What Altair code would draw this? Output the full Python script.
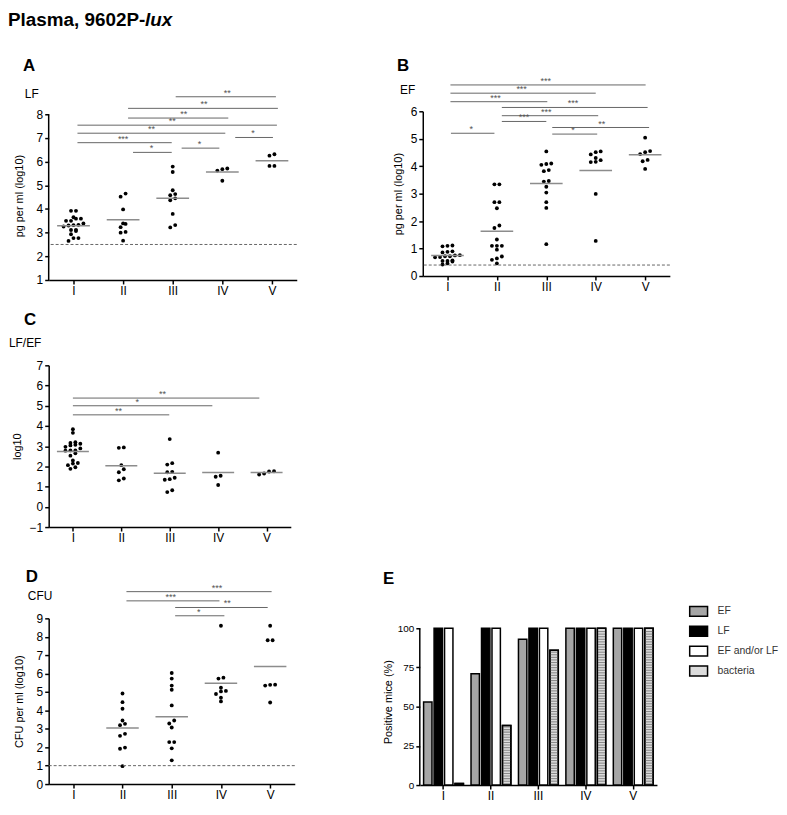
import altair as alt
import pandas as pd

FONT = "Liberation Sans"
GROUPS = ["I", "II", "III", "IV", "V"]

# ---------------- Panel A : LF, pg per ml (log10)
A_VALUES = [
    [3.92, 3.92, 3.59, 3.50, 3.50, 3.59, 3.65, 3.39, 3.33, 3.26, 3.30, 3.32, 3.07, 3.11, 3.12, 2.93, 2.77, 2.65, 2.77],
    [4.52, 4.65, 3.98, 3.39, 3.37, 3.23, 3.03, 3.00, 2.66],
    [5.79, 5.56, 4.79, 4.63, 4.58, 4.45, 4.37, 3.79, 3.22, 3.32],
    [5.68, 5.62, 5.71, 5.19],
    [6.31, 6.25, 5.82, 5.82],
]
A_MEDIANS = [3.29, 3.54, 4.45, 5.56, 6.04]
A_LOD = 2.5
A_SIG_FROM = [3.06, 2.10, 2.10, 1.08, 1.08, 1.08, 2.20, 3.18, 4.26]
A_SIG_TO = [5.08, 5.12, 4.12, 5.10, 4.06, 2.98, 2.98, 3.94, 5.02]
A_SIG_Y = [8.74, 8.25, 7.84, 7.54, 7.20, 6.80, 6.39, 6.57, 7.02]
A_SIG_TEXT_X = [4.10, 3.63, 3.22, 2.99, 2.57, 2.00, 2.57, 3.54, 4.62]
A_SIG_LABEL = ["**", "**", "**", "**", "**", "***", "*", "*", "*"]

# ---------------- Panel B : EF, pg per ml (log10)
B_VALUES = [
    [1.10, 1.08, 1.11, 0.90, 0.86, 0.88, 0.76, 0.72, 0.69, 0.72, 0.68, 0.75, 0.57, 0.53, 0.55, 0.55, 0.42, 0.46],
    [3.34, 3.34, 2.69, 2.69, 2.47, 1.75, 1.84, 1.33, 1.10, 0.96, 1.10, 1.10, 0.64, 0.71, 0.59, 0.46],
    [4.54, 4.08, 4.05, 4.10, 3.82, 3.86, 3.46, 3.44, 3.25, 3.04, 2.69, 2.48, 1.16],
    [4.51, 4.43, 4.54, 4.22, 4.15, 4.16, 4.30, 2.99, 1.28],
    [5.04, 4.55, 4.44, 4.51, 4.23, 4.18, 3.90],
]
B_MEDIANS = [0.75, 1.63, 3.37, 3.84, 4.42]
B_LOD = 0.40
B_SIG_FROM = [1.06, 1.06, 1.06, 2.10, 2.10, 2.10, 1.07, 3.12, 3.12]
B_SIG_TO = [5.01, 4.00, 3.02, 5.05, 4.05, 3.00, 1.95, 5.08, 4.03]
B_SIG_Y = [6.96, 6.66, 6.35, 6.14, 5.84, 5.63, 5.20, 5.41, 5.17]
B_SIG_TEXT_X = [2.99, 2.50, 1.97, 3.54, 3.00, 2.55, 1.48, 4.12, 3.54]
B_SIG_LABEL = ["***", "***", "***", "***", "***", "***", "*", "**", "*"]

# ---------------- Panel C : LF/EF ratio (log10)
C_VALUES = [
    [3.84, 3.66, 3.16, 3.07, 3.12, 3.20, 2.97, 3.04, 2.78, 2.79, 2.79, 2.89, 2.53, 2.65, 2.17, 2.06, 2.14, 2.29, 1.88, 1.96],
    [2.94, 2.92, 2.06, 1.86, 1.71, 1.31, 1.40],
    [3.35, 2.16, 2.09, 1.71, 1.73, 1.37, 1.34, 1.44, 0.73, 0.82],
    [2.68, 1.54, 1.49, 1.08],
    [1.75, 1.60, 1.65, 1.76],
]
C_MEDIANS = [2.74, 2.03, 1.66, 1.70, 1.70]
C_SIG_FROM = [1.00, 1.00, 1.00]
C_SIG_TO = [4.85, 3.88, 2.99]
C_SIG_Y = [5.38, 5.00, 4.55]
C_SIG_TEXT_X = [2.85, 2.33, 1.94]
C_SIG_LABEL = ["**", "*", "**"]

# ---------------- Panel D : CFU per ml (log10)
D_VALUES = [
    [],
    [4.92, 4.45, 4.09, 3.45, 3.27, 3.20, 2.73, 2.62, 1.98, 1.92, 0.97],
    [6.03, 5.73, 5.35, 5.12, 4.27, 3.45, 3.29, 3.07, 2.28, 2.28, 1.94, 1.29],
    [8.60, 5.78, 5.73, 5.23, 5.03, 5.06, 4.89, 4.69, 4.49],
    [8.60, 7.81, 7.81, 5.39, 5.35, 5.40, 4.43],
]
D_MEDIANS = [None, 3.05, 3.66, 5.48, 6.39]
D_LOD = 1.0
D_SIG_FROM = [2.08, 2.08, 3.07, 3.07]
D_SIG_TO = [5.03, 3.97, 4.95, 4.07]
D_SIG_Y = [10.45, 9.95, 9.59, 9.14]
D_SIG_TEXT_X = [3.92, 2.98, 4.13, 3.55]
D_SIG_LABEL = ["***", "***", "**", "*"]

# ---------------- Panel E : positive mice (%)
E_SERIES = ["EF", "LF", "EF and/or LF", "bacteria"]
E_EF = [53, 71, 93, 100, 100]
E_LF = [100, 100, 100, 100, 100]
E_EF_OR_LF = [100, 100, 100, 100, 100]
E_BACTERIA = [1, 38, 86, 100, 100]


def swarm_frame(groups, ppu_x, ppu_y, row_px=3.5, step_px=5.0):
    recs = []
    for gi, vals in enumerate(groups):
        vs = sorted(vals)
        i = 0
        while i < len(vs):
            j = i
            while j + 1 < len(vs) and (vs[j + 1] - vs[i]) * ppu_y <= row_px:
                j += 1
            n = j - i + 1
            for k in range(n):
                recs.append({"g": gi + 1 + (k - (n - 1) / 2) * step_px / ppu_x, "v": vs[i + k]})
            i = j + 1
    return pd.DataFrame(recs, columns=["g", "v"])


def text_layer(txt, x, y, size, weight="normal", style="normal"):
    return alt.Chart(pd.DataFrame({"t": [txt]})).mark_text(
        align="left", baseline="alphabetic", font=FONT, fontSize=size,
        fontWeight=weight, fontStyle=style, color="black"
    ).encode(text="t:N", x=alt.value(x), y=alt.value(y))


def dot_panel(values, medians, lod, sig, ydom, yvals, ytitle, w, h, texts, title_pad, head_px=0):
    ppu_x = w / 5.0
    ppu_y = h / (ydom[1] - ydom[0])
    ytop = ydom[1] + head_px / ppu_y
    xs = alt.Scale(domain=[0.5, 5.5], nice=False, zero=False)
    ys = alt.Scale(domain=[ydom[0], ytop], nice=False, zero=False)
    xax = alt.Axis(values=[1, 2, 3, 4, 5],
                   labelExpr="['I','II','III','IV','V'][datum.value - 1]",
                   title=None, grid=False, labelPadding=2)
    yax = alt.Axis(values=yvals, format="d", title=ytitle, grid=False, titlePadding=title_pad,
                   domain=(head_px == 0))

    def X(f):
        return alt.X(f, type="quantitative", scale=xs, axis=xax)

    def Y(f):
        return alt.Y(f, type="quantitative", scale=ys, axis=yax)

    layers = []
    pts = swarm_frame(values, ppu_x, ppu_y)
    layers.append(alt.Chart(pts).mark_circle(size=15, color="black", opacity=1).encode(x=X("g"), y=Y("v")))

    med = pd.DataFrame([{"g1": i + 1 - 0.33, "g2": i + 1 + 0.33, "v": m}
                        for i, m in enumerate(medians) if m is not None])
    layers.append(alt.Chart(med).mark_rule(color="#8c8c8c", strokeWidth=1.5).encode(
        x=X("g1"), x2="g2", y=Y("v")))

    if lod is not None:
        layers.append(alt.Chart(pd.DataFrame({"v": [lod]})).mark_rule(
            color="#666666", strokeDash=[3, 2], strokeWidth=1).encode(y=Y("v")))

    s_from, s_to, s_y, s_tx, s_lab = sig
    sdf = pd.DataFrame({"g1": s_from, "g2": s_to, "v": s_y, "gm": s_tx, "lab": s_lab})
    layers.append(alt.Chart(sdf).mark_rule(color="#666666", strokeWidth=1).encode(
        x=X("g1"), x2="g2", y=Y("v")))
    layers.append(alt.Chart(sdf).mark_text(font=FONT, fontSize=9, color="#555555", dy=-1,
                                           baseline="alphabetic").encode(
        x=X("gm"), y=Y("v"), text="lab:N"))

    if head_px:
        layers.append(alt.Chart(pd.DataFrame({"v": [ydom[0]], "v2": [ydom[1]]})).mark_rule(
            color="black", strokeWidth=1.5).encode(x=alt.value(0), y=Y("v"), y2="v2"))

    for t in texts:
        layers.append(text_layer(*t))
    return alt.layer(*layers).properties(width=w, height=h + head_px)


A = dot_panel(A_VALUES, A_MEDIANS, A_LOD, (A_SIG_FROM, A_SIG_TO, A_SIG_Y, A_SIG_TEXT_X, A_SIG_LABEL),
              [1, 8], [1, 2, 3, 4, 5, 6, 7, 8], "pg per ml (log10)", 250, 167,
              [("Plasma, 9602P-", -41, -86, 19, "bold"),
               ("lux", 97, -86, 19, "bold", "italic"),
               ("A", -26, -41, 17, "bold"),
               ("LF", -24, -13, 12)], 12, head_px=3)

B = dot_panel(B_VALUES, B_MEDIANS, B_LOD, (B_SIG_FROM, B_SIG_TO, B_SIG_Y, B_SIG_TEXT_X, B_SIG_LABEL),
              [0, 6], [0, 1, 2, 3, 4, 5, 6], "pg per ml (log10)", 249, 166,
              [("B", -26, -41, 17, "bold"),
               ("EF", -23, -17, 12)], 7)

C = dot_panel(C_VALUES, C_MEDIANS, None, (C_SIG_FROM, C_SIG_TO, C_SIG_Y, C_SIG_TEXT_X, C_SIG_LABEL),
              [-1, 7], [-1, 0, 1, 2, 3, 4, 5, 6, 7], "log10", 244, 163,
              [("C", -25, -41, 17, "bold"),
               ("LF/EF", -40, -18, 12)], 7)

D = dot_panel(D_VALUES, D_MEDIANS, D_LOD, (D_SIG_FROM, D_SIG_TO, D_SIG_Y, D_SIG_TEXT_X, D_SIG_LABEL),
              [0, 9], [0, 1, 2, 3, 4, 5, 6, 7, 8, 9], "CFU per ml (log10)", 248, 167,
              [("D", -23, -37, 17, "bold"),
               ("CFU", -21, -18, 12)], 12)

# ---------------- Panel E
rows = []
for series, vals in zip(E_SERIES, [E_EF, E_LF, E_EF_OR_LF, E_BACTERIA]):
    for g, v in zip(GROUPS, vals):
        rows.append({"grp": g, "series": series, "pct": v})
edf = pd.DataFrame(rows)

E_H = 168
E_PX_PER_PCT = 158 / 100.0
E_TOP = E_H / E_PX_PER_PCT  # headroom so the 100 tick sits 10px below the panel top

ex = alt.X("grp:N", sort=GROUPS, scale=alt.Scale(domain=GROUPS, paddingInner=0.16, paddingOuter=0.08),
           axis=alt.Axis(title=None, labelAngle=0, labelPadding=2))
exo = alt.XOffset("series:N", sort=E_SERIES, scale=alt.Scale(domain=E_SERIES, paddingInner=0.2, paddingOuter=0))
ey_axis = alt.Axis(values=[0, 25, 50, 75, 100], title="Positive mice (%)", domain=False,
                   labelFontSize=10, titleFontSize=11, titlePadding=4)
ey_scale = alt.Scale(domain=[0, E_TOP], nice=False)

bars = alt.Chart(edf).mark_bar(stroke="black", strokeWidth=1.5).encode(
    x=ex, xOffset=exo, y=alt.Y("pct:Q", scale=ey_scale, axis=ey_axis),
    fill=alt.Fill("series:N", sort=E_SERIES,
                  scale=alt.Scale(domain=E_SERIES, range=["#a6a6a6", "#000000", "#ffffff", "#dcdcdc"]),
                  legend=alt.Legend(title=None, orient="none", legendX=275, legendY=-13,
                                    symbolType="M-1.8,-1H1.8V1H-1.8Z", symbolSize=100,
                                    symbolStrokeColor="black", symbolStrokeWidth=1.5,
                                    labelFont=FONT, labelFontSize=10.5, labelColor="#333333",
                                    labelOffset=13, rowPadding=4, symbolOpacity=1)))

# horizontal hatch inside the "bacteria" bars (pattern decoration, ~2.6px period)
period = 2.6 / E_PX_PER_PCT
line_w = 1.1 / E_PX_PER_PCT
hatch = []
for g, v in zip(GROUPS, E_BACTERIA):
    k = 0
    while (k + 1) * period <= v:
        hatch.append({"grp": g, "series": "bacteria", "s0": k * period + (period - line_w) / 2,
                      "s1": k * period + (period + line_w) / 2})
        k += 1
hdf = pd.DataFrame(hatch)
stripes = alt.Chart(hdf).mark_bar(color="#8a8a8a", stroke=None).encode(
    x=ex, xOffset=exo, y=alt.Y("s0:Q", scale=ey_scale, axis=ey_axis), y2="s1:Q")

outline = alt.Chart(edf[edf["series"] == "bacteria"]).mark_bar(
    fillOpacity=0, stroke="black", strokeWidth=1.5).encode(
    x=ex, xOffset=exo, y=alt.Y("pct:Q", scale=ey_scale, axis=ey_axis))

y_axis_line = alt.Chart(pd.DataFrame({"lo": [0], "hi": [100]})).mark_rule(
    color="black", strokeWidth=1.5).encode(x=alt.value(0), y=alt.Y("lo:Q", scale=ey_scale, axis=ey_axis), y2="hi:Q")

E = alt.layer(bars, stripes, outline, y_axis_line,
              text_layer("E", -37, -35, 17, "bold")).properties(width=239, height=E_H)

row1 = alt.hconcat(A, B, spacing=95)
row3 = alt.hconcat(D, E, spacing=87).resolve_scale(fill="independent").resolve_legend(fill="independent")
chart = alt.vconcat(alt.vconcat(row1, C, spacing=14), row3, spacing=24).resolve_scale(
    fill="independent").resolve_legend(fill="independent").properties(
    padding={"left": 0, "top": 0, "right": 0, "bottom": 0}
).configure_axis(
    domainColor="black", domainWidth=1.5, tickColor="black", tickWidth=1.5, tickSize=4,
    labelColor="black", labelFont=FONT, labelFontSize=12,
    titleFont=FONT, titleFontSize=11, titleFontWeight="normal", titleColor="black", grid=False
).configure_view(stroke=None)

chart.save("out.html", embed_options={"renderer": "svg", "actions": False})
